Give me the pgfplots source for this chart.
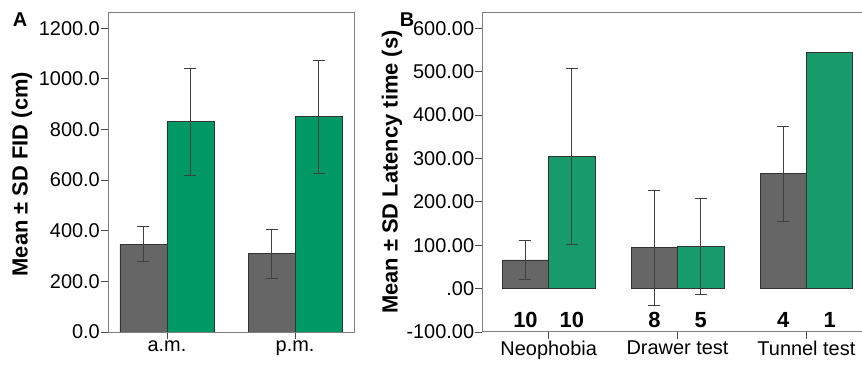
\documentclass[border=0pt]{standalone}
\usepackage{fontspec}
\setmainfont{Liberation Sans}
\usepackage{pgfplots}
\pgfplotsset{compat=1.18}
\definecolor{barGray}{HTML}{666666}
\definecolor{greenA}{HTML}{009966}
\definecolor{greenB}{HTML}{189B6A}
\definecolor{edge}{HTML}{333333}
\pgfplotsset{
  mystyle/.style={
    scale only axis, anchor=south west,
    axis line style={draw=black!50, line width=1bp},
    tick pos=left, tick align=outside, major tick length=7bp,
    tick style={draw=black!70, line width=0.8bp},
    ticklabel style={font=\fontsize{20}{24}\selectfont},
    yticklabel style={inner sep=1bp},
    xticklabel style={inner sep=2bp},
    ylabel style={font=\fontsize{22}{26}\selectfont\bfseries, anchor=center},
  },
  mybar/.style={ybar, bar width=#1, bar shift=0pt, line width=0.8bp, draw=edge},
  myerr/.style={error bars/.cd, y dir=both, y explicit,
    error bar style={draw=black!75, line width=0.8bp},
    error mark options={rotate=90, mark size=6bp, line width=0.8bp, draw=black!75}},
}
\begin{document}
\begin{tikzpicture}
% Panel A
\begin{axis}[mystyle,
  at={(108bp,33bp)}, width=246bp, height=319bp,
  xmin=-0.46, xmax=1.46, ymin=0, ymax=1260,
  xtick={0,1}, xticklabels={a.m., p.m.},
  ytick={0,200,400,600,800,1000,1200},
  yticklabels={0.0,200.0,400.0,600.0,800.0,1000.0,1200.0},
  ylabel={Mean ± SD FID (cm)}, ylabel style={at={(axis description cs:-0.3496,0.495)}},
]
\addplot[mybar=0.367, fill=barGray, myerr] table[x=x, y=y, y error=e] {
x y e
-0.1835 347 69
0.8165 310 97
};
\addplot[mybar=0.367, fill=greenA, myerr] table[x=x, y=y, y error=e] {
x y e
0.1835 831 212
1.1835 850 224
};
\end{axis}
% Panel B
\begin{axis}[mystyle,
  at={(482.3bp,33bp)}, width=385.7bp, height=319.3bp,
  xmin=-0.515, xmax=2.478, ymin=-100, ymax=636,
  xtick={0,1,2}, xticklabels={Neophobia, Drawer test, Tunnel test},
  ytick={-100,0,100,200,300,400,500,600},
  yticklabels={-100.00,.00,100.00,200.00,300.00,400.00,500.00,600.00},
  ylabel={Mean ± SD Latency time (s)}, ylabel style={at={(axis description cs:-0.2341,0.501)}},
]
\addplot[mybar=0.36, fill=barGray, myerr] table[x=x, y=y, y error=e] {
x y e
-0.18 66 44
0.82 94 133
1.82 265 110
};
\addplot[mybar=0.36, fill=greenB, myerr] table[x=x, y=y, y error=e] {
x y e
0.18 305 203
1.18 97 110
};
\addplot[mybar=0.36, fill=greenB] table[x=x, y=y] {
x y
2.18 545
};
\addplot[draw=none, mark=none, nodes near coords, point meta=explicit symbolic,
  nodes near coords align={center},
  every node near coord/.append style={font=\fontsize{22}{26}\selectfont\bfseries, inner sep=0pt}]
  table[x=x, y=y, meta=n] {
x y n
-0.18 -72 10
0.18 -72 10
0.82 -72 8
1.18 -72 5
1.82 -72 4
2.18 -72 1
};
\end{axis}
\node[font=\fontsize{20}{24}\selectfont\bfseries] at (20bp,345bp) {A};
\node[font=\fontsize{20}{24}\selectfont\bfseries] at (407bp,345bp) {B};
\pgfresetboundingbox
\path[use as bounding box] (0,0) rectangle (862bp,365bp);
\end{tikzpicture}
\end{document}
